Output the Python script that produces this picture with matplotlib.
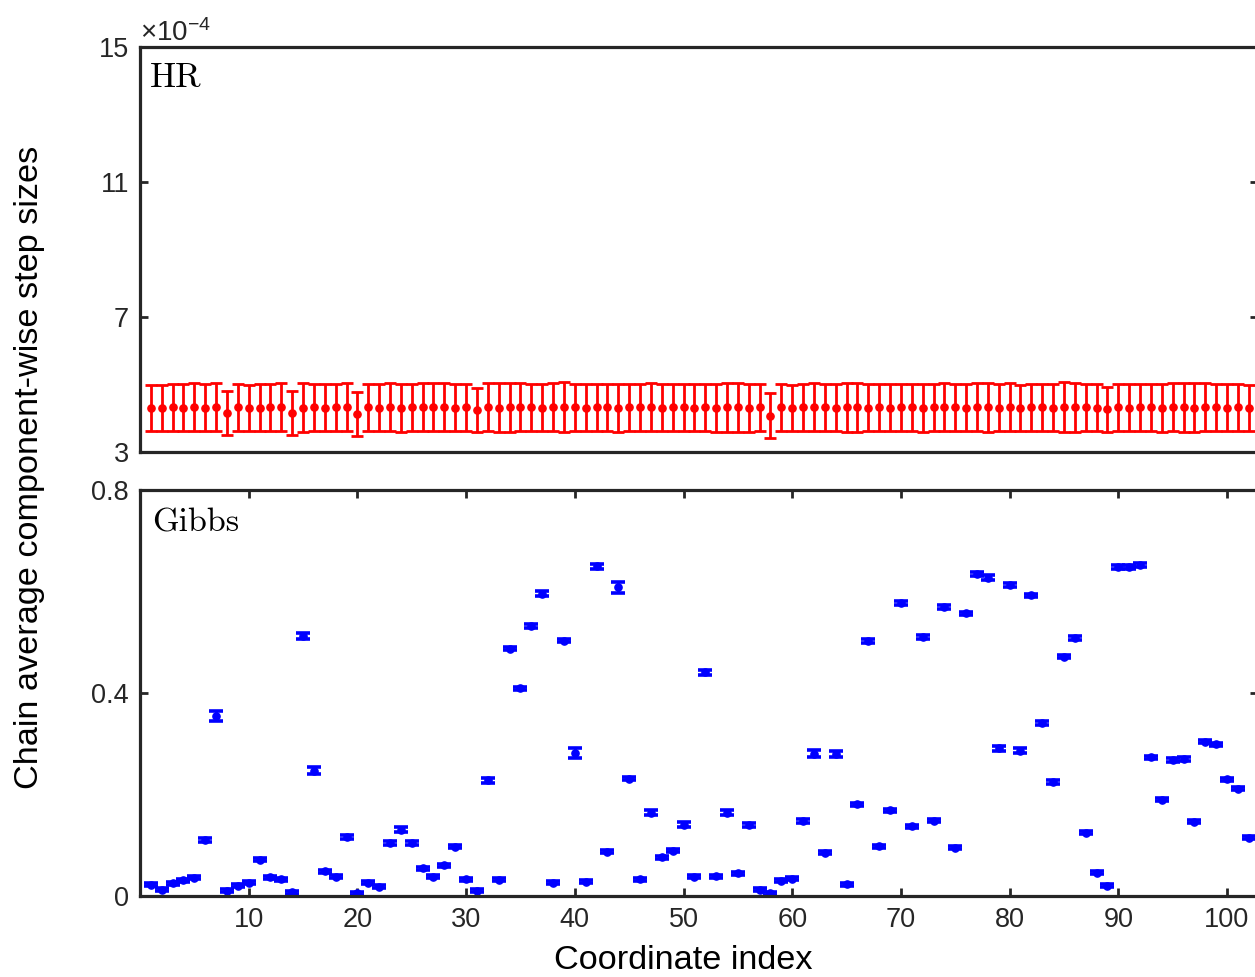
import numpy as np
from matplotlib import pyplot as plt
from matplotlib.ticker import FixedLocator

plt.rcParams['font.family'] = ['Liberation Sans', 'DejaVu Sans']
plt.rcParams['mathtext.fontset'] = 'custom'
plt.rcParams['mathtext.rm'] = 'Liberation Sans'
plt.rcParams['mathtext.it'] = 'Liberation Sans:italic'

# HR chain: mean step size (units of 1e-4) and half-width of the bar
hr_mean = [4.31, 4.31, 4.32, 4.31, 4.32, 4.31, 4.33, 4.15, 4.32, 4.31,
           4.31, 4.32, 4.33, 4.15, 4.31, 4.32, 4.31, 4.32, 4.33, 4.13,
           4.32, 4.31, 4.32, 4.31, 4.32, 4.32, 4.33, 4.32, 4.31, 4.32,
           4.24, 4.32, 4.31, 4.32, 4.33, 4.32, 4.31, 4.32, 4.33, 4.32,
           4.31, 4.32, 4.32, 4.31, 4.32, 4.32, 4.33, 4.31, 4.32, 4.32,
           4.31, 4.32, 4.31, 4.32, 4.32, 4.31, 4.32, 4.08, 4.32, 4.31,
           4.32, 4.33, 4.32, 4.31, 4.32, 4.32, 4.31, 4.32, 4.31, 4.32,
           4.32, 4.31, 4.32, 4.33, 4.32, 4.31, 4.32, 4.32, 4.31, 4.32,
           4.31, 4.32, 4.32, 4.31, 4.33, 4.32, 4.32, 4.31, 4.27, 4.32,
           4.31, 4.32, 4.32, 4.31, 4.32, 4.32, 4.31, 4.32, 4.32, 4.31,
           4.32, 4.31]
hr_err = [0.68, 0.69, 0.70, 0.70, 0.71, 0.70, 0.72, 0.66, 0.70, 0.69,
          0.70, 0.70, 0.71, 0.66, 0.72, 0.70, 0.70, 0.69, 0.70, 0.66,
          0.69, 0.70, 0.71, 0.71, 0.70, 0.71, 0.72, 0.71, 0.70, 0.70,
          0.66, 0.71, 0.72, 0.72, 0.71, 0.70, 0.70, 0.71, 0.74, 0.70,
          0.70, 0.69, 0.70, 0.71, 0.70, 0.70, 0.71, 0.70, 0.69, 0.70,
          0.70, 0.70, 0.71, 0.72, 0.72, 0.71, 0.70, 0.66, 0.70, 0.69,
          0.70, 0.71, 0.70, 0.70, 0.72, 0.73, 0.70, 0.70, 0.70, 0.69,
          0.70, 0.71, 0.70, 0.70, 0.70, 0.70, 0.71, 0.72, 0.70, 0.71,
          0.69, 0.70, 0.70, 0.70, 0.73, 0.72, 0.70, 0.70, 0.67, 0.70,
          0.70, 0.70, 0.70, 0.71, 0.71, 0.72, 0.72, 0.71, 0.70, 0.70,
          0.69, 0.69]

# Gibbs chain
gibbs_mean = [0.022, 0.012, 0.025, 0.031, 0.036, 0.110, 0.355, 0.010, 0.020, 0.026,
              0.071, 0.037, 0.033, 0.007, 0.512, 0.247, 0.049, 0.038, 0.117, 0.005,
              0.026, 0.018, 0.105, 0.131, 0.104, 0.055, 0.038, 0.061, 0.097, 0.033,
              0.010, 0.228, 0.032, 0.487, 0.409, 0.532, 0.596, 0.026, 0.503, 0.281,
              0.028, 0.650, 0.087, 0.608, 0.231, 0.033, 0.164, 0.076, 0.089, 0.140,
              0.038, 0.441, 0.039, 0.164, 0.045, 0.140, 0.012, 0.005, 0.030, 0.034,
              0.147, 0.280, 0.085, 0.280, 0.023, 0.181, 0.502, 0.098, 0.169, 0.577,
              0.137, 0.510, 0.148, 0.569, 0.095, 0.557, 0.634, 0.627, 0.291, 0.613,
              0.286, 0.593, 0.341, 0.225, 0.471, 0.509, 0.125, 0.046, 0.020, 0.649,
              0.649, 0.653, 0.273, 0.190, 0.268, 0.270, 0.146, 0.304, 0.299, 0.230,
              0.211, 0.115]
gibbs_err = [0.003, 0.003, 0.003, 0.003, 0.003, 0.004, 0.010, 0.003, 0.003, 0.003,
             0.003, 0.003, 0.003, 0.003, 0.006, 0.007, 0.003, 0.003, 0.004, 0.003,
             0.003, 0.003, 0.004, 0.005, 0.004, 0.003, 0.003, 0.003, 0.003, 0.003,
             0.003, 0.005, 0.003, 0.003, 0.003, 0.004, 0.005, 0.003, 0.003, 0.010,
             0.003, 0.005, 0.003, 0.010, 0.003, 0.003, 0.005, 0.003, 0.003, 0.005,
             0.003, 0.005, 0.003, 0.005, 0.003, 0.004, 0.003, 0.003, 0.003, 0.003,
             0.004, 0.007, 0.003, 0.006, 0.003, 0.003, 0.004, 0.003, 0.003, 0.004,
             0.003, 0.004, 0.003, 0.004, 0.003, 0.003, 0.004, 0.005, 0.005, 0.004,
             0.005, 0.003, 0.004, 0.004, 0.003, 0.004, 0.003, 0.003, 0.003, 0.004,
             0.004, 0.004, 0.003, 0.003, 0.004, 0.004, 0.003, 0.003, 0.003, 0.003,
             0.003, 0.003]

coords = np.arange(1, len(gibbs_mean) + 1)

W, H = 1255, 977
fig = plt.figure(figsize=(W / 100, H / 100), dpi=100)
ax1 = fig.add_axes([140 / W, (H - 452) / H, (1258 - 140) / W, 405 / H])
ax2 = fig.add_axes([140 / W, (H - 896) / H, (1258 - 140) / W, 406 / H])
xmax = (1258 - 140) / 10.87

ax1.errorbar(coords, hr_mean, yerr=hr_err, fmt='o', color='red', ecolor='red',
             markersize=5.2, elinewidth=2.0, capsize=4.4, capthick=2.0)
ax2.errorbar(coords, gibbs_mean, yerr=gibbs_err, fmt='o', color='blue', ecolor='blue',
             markersize=5.2, elinewidth=2.0, capsize=4.8, capthick=2.6)

ax1.set_xlim(0, xmax)
ax1.set_ylim(3, 15)
ax1.yaxis.set_major_locator(FixedLocator([3, 7, 11, 15]))
ax1.set_xticks([])
ax2.set_xlim(0, xmax)
ax2.set_ylim(0, 0.8)
ax2.set_yticks([0, 0.4, 0.8])
ax2.set_yticklabels(['0', '0.4', '0.8'])
ax2.set_xticks(np.arange(10, 101, 10))

for ax in (ax1, ax2):
    for sp in ax.spines.values():
        sp.set_linewidth(2.3)
        sp.set_color('#262626')
    ax.tick_params(direction='in', length=6, width=2, color='#262626',
                   labelsize=19.5, labelcolor='#262626', pad=8,
                   top=True, right=True)

ax1.text(0.009, 0.922, 'HR', transform=ax1.transAxes, fontfamily='cmr10',
         fontsize=25, va='center', ha='left')
ax2.text(0.011, 0.918, 'Gibbs', transform=ax2.transAxes, fontfamily='cmr10',
         fontsize=24.5, va='center', ha='left')

fig.text(140 / W, (H - 41) / H, r'$\times10^{\mathrm{-4}}$', fontsize=20, color='#262626',
         ha='left', va='baseline')
fig.text(30 / W, (H - 467) / H, 'Chain average component-wise step sizes',
         rotation=90, fontsize=24.7, ha='center', va='center')
fig.text(683 / W, 8 / H, 'Coordinate index', fontsize=24.7, ha='center', va='baseline')

fig.savefig('out.png', dpi=100)
